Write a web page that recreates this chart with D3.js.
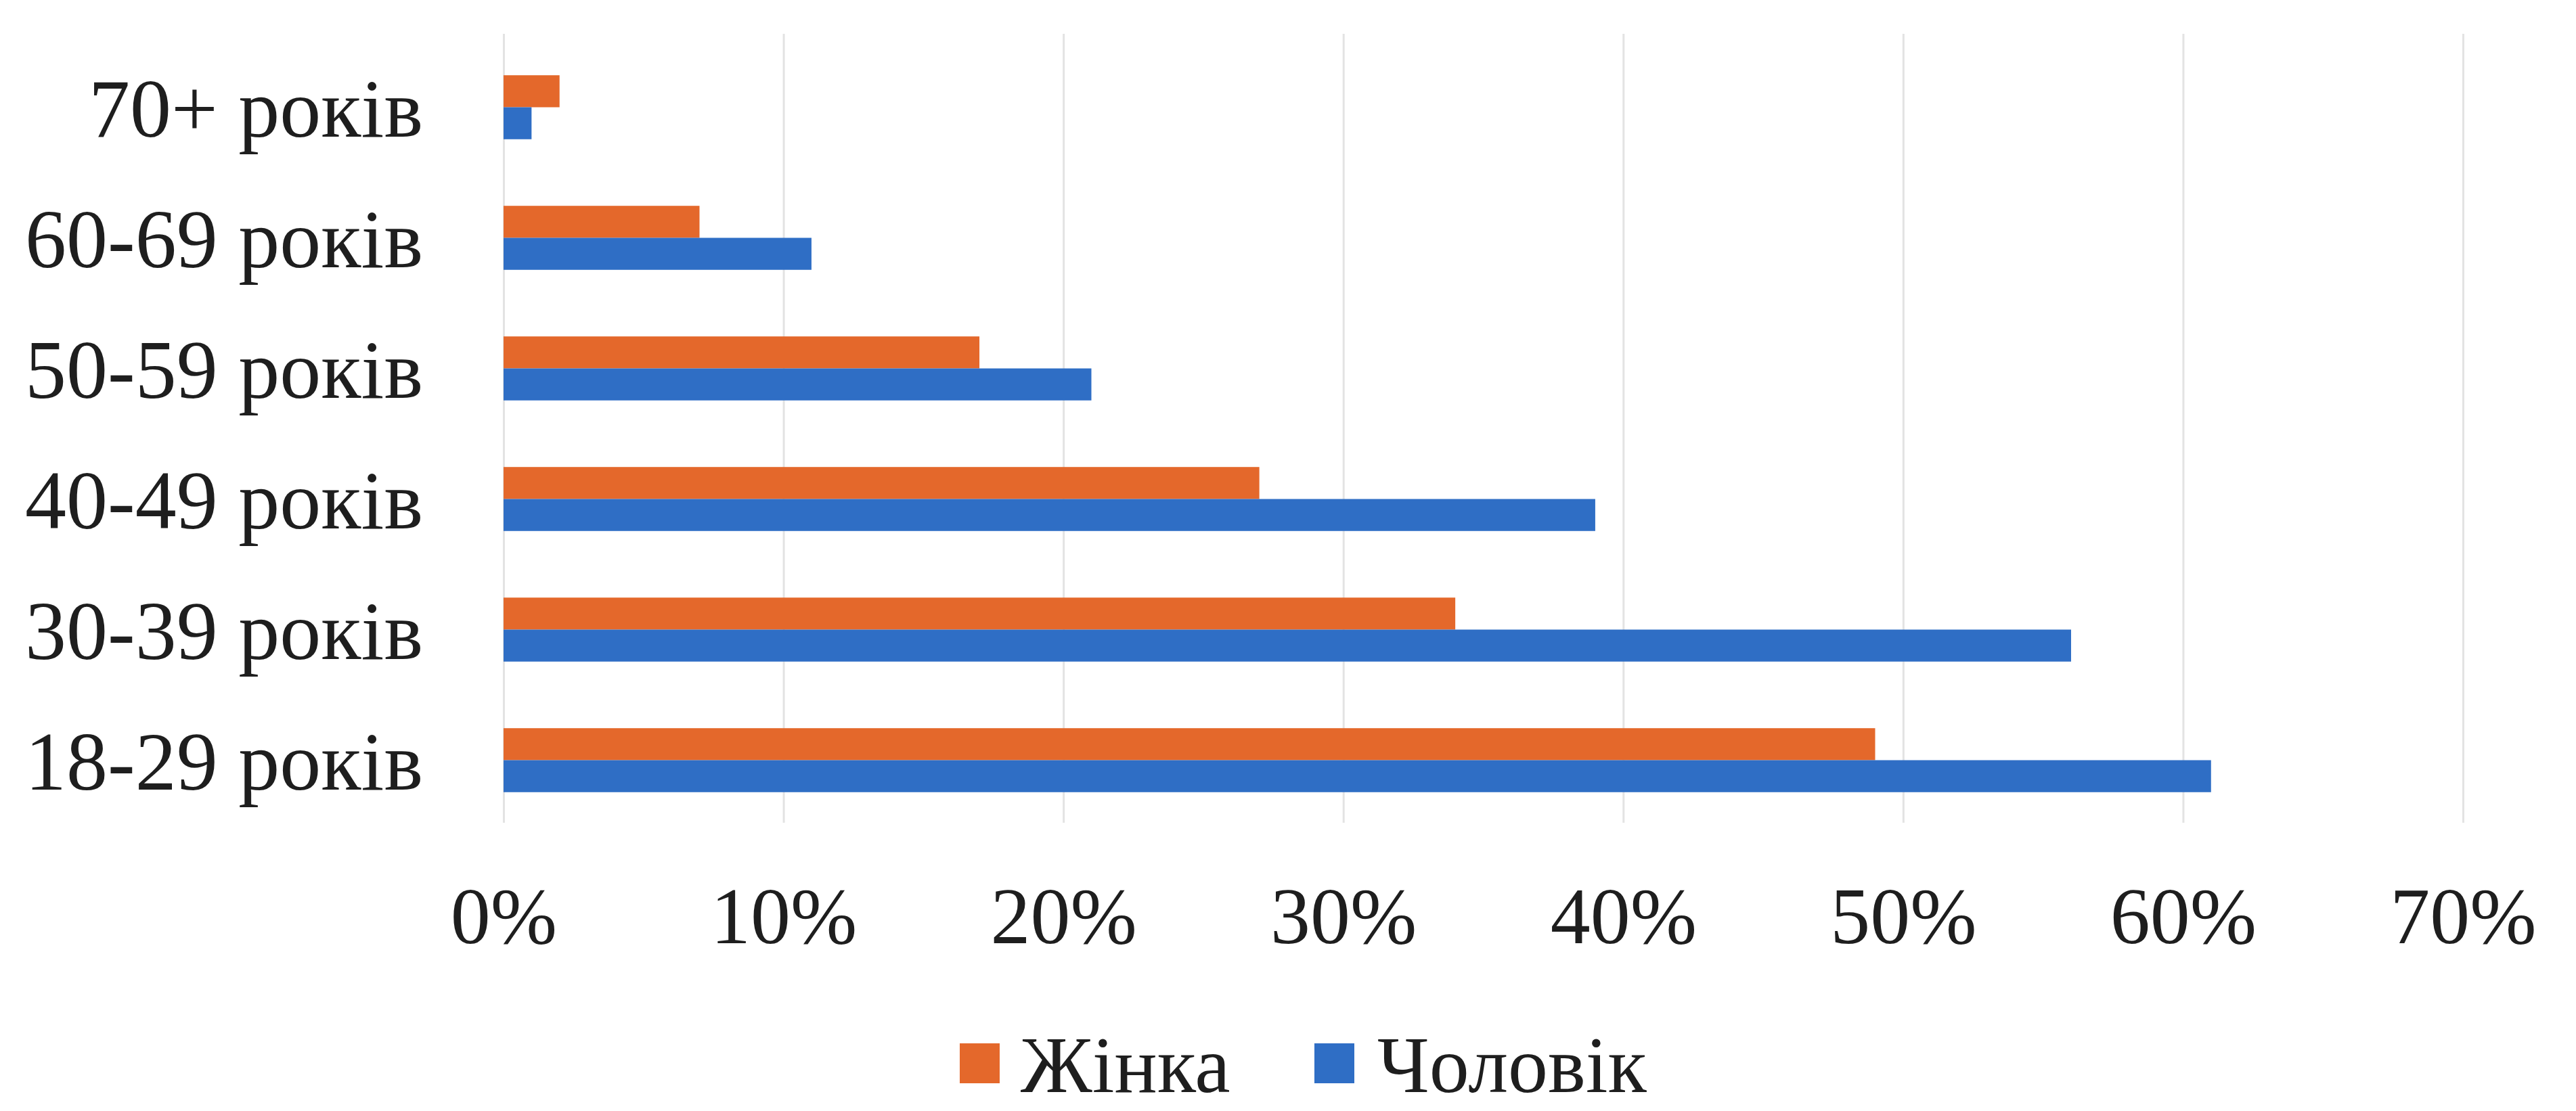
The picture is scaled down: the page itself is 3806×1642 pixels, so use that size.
<!DOCTYPE html>
<html>
<head>
<meta charset="utf-8">
<script src="https://cdn.jsdelivr.net/npm/d3@7"></script>
<style>
  html, body { margin: 0; padding: 0; background: #ffffff; }
  svg { display: block; }
  text { font-family: "Liberation Serif", "Times New Roman", serif; fill: #1e1e1e; }
</style>
</head>
<body>
<svg id="chart" width="3806" height="1642"></svg>
<script>
// ---- data ----
const categories = ["70+ років", "60-69 років", "50-59 років", "40-49 років", "30-39 років", "18-29 років"];
const seriesNames = ["Жінка", "Чоловік"];
const zhinka = [0.02, 0.07, 0.17, 0.27, 0.34, 0.49];
const cholovik = [0.01, 0.11, 0.21, 0.39, 0.56, 0.61];
const tickValues = [0, 0.1, 0.2, 0.3, 0.4, 0.5, 0.6, 0.7];
const tickLabels = ["0%", "10%", "20%", "30%", "40%", "50%", "60%", "70%"];
const colors = ["#E4682B", "#2F6EC5"];

const rows = categories.map((c, i) => ({ cat: c, values: [zhinka[i], cholovik[i]] }));

const svg = d3.select("#chart");
const W = 3806, H = 1642;
svg.append("rect").attr("width", W).attr("height", H).attr("fill", "#ffffff");

const x = d3.scaleLinear().domain([0, 0.7]).range([744, 3639]);
const y = d3.scaleBand().domain(categories).range([62, 1220])
  .paddingInner(0.51).paddingOuter(0.255);
const ySub = d3.scaleBand().domain(seriesNames).range([0, y.bandwidth()]);

// gridlines
const grid = svg.append("g")
  .attr("transform", "translate(0,1216)")
  .call(d3.axisBottom(x).tickValues(tickValues).tickSize(-1166).tickFormat(""));
grid.select(".domain").remove();
grid.selectAll(".tick line").attr("stroke", "#e3e3e3").attr("stroke-width", 3);

// bars
const groups = svg.append("g").selectAll("g").data(rows).join("g")
  .attr("transform", d => `translate(0,${y(d.cat)})`);
groups.selectAll("rect").data(d => d.values.map((v, k) => ({ k, v }))).join("rect")
  .attr("x", x(0))
  .attr("y", d => ySub(seriesNames[d.k]))
  .attr("width", d => x(d.v) - x(0))
  .attr("height", ySub.bandwidth())
  .attr("fill", d => colors[d.k]);

// y axis labels
const yAxis = svg.append("g")
  .attr("transform", "translate(625,0)")
  .call(d3.axisLeft(y).tickSize(0).tickPadding(0));
yAxis.select(".domain").remove();
yAxis.selectAll(".tick text")
  .attr("font-size", 122)
  .attr("dy", 43)
  .attr("text-anchor", "end")
  .style("font-family", '"Liberation Serif", serif')
  .attr("fill", "#1e1e1e");

// x axis labels
const xAxis = svg.append("g")
  .attr("transform", "translate(0,1394)")
  .call(d3.axisBottom(x).tickValues(tickValues).tickSize(0).tickPadding(0)
    .tickFormat((d, i) => tickLabels[i]));
xAxis.select(".domain").remove();
xAxis.selectAll(".tick text")
  .attr("font-size", 118)
  .attr("dy", 0)
  .attr("y", 0)
  .style("font-family", '"Liberation Serif", serif')
  .attr("fill", "#1e1e1e");

// legend
const legendItems = [
  { name: seriesNames[0], color: colors[0], sx: 1418, tx: 1508 },
  { name: seriesNames[1], color: colors[1], sx: 1942, tx: 2035 }
];
const lg = svg.append("g");
legendItems.forEach(it => {
  lg.append("rect").attr("x", it.sx).attr("y", 1542).attr("width", 59).attr("height", 59).attr("fill", it.color);
  lg.append("text").attr("x", it.tx).attr("y", 1614).attr("font-size", 118).text(it.name);
});
</script>
</body>
</html>
